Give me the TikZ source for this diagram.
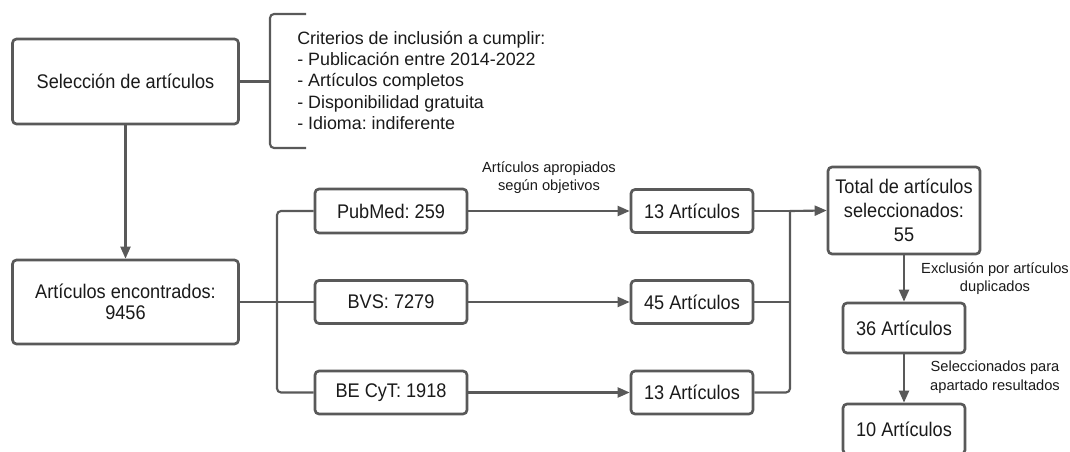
\documentclass[tikz,border=0pt]{standalone}
\usepackage{fontspec}
\setmainfont{Liberation Sans}
\newfontfamily\boxfont[FakeStretch=0.92]{Liberation Sans}
\usetikzlibrary{arrows.meta}
\definecolor{ln}{HTML}{595959}
\definecolor{tx}{HTML}{1A1A1A}
\frenchspacing
\begin{document}
\begin{tikzpicture}[x=0.75pt,y=-0.75pt,
  box/.style={draw=ln,line width=2pt,rounded corners=3pt,text=tx,align=center,inner sep=0pt,
    font=\boxfont\fontsize{14.8}{15.8}\selectfont},
  conn/.style={draw=ln,line width=1.6pt,rounded corners=3pt},
  arr/.style={conn,-{Triangle[length=9pt,width=7.5pt]}},
  lbl/.style={text=tx,align=center,inner sep=0pt,font=\fontsize{11}{13.6}\selectfont}]
\useasboundingbox (0,0) rectangle (1070,452);
\clip (0,0) rectangle (1070,452);
% boxes
\node[box,minimum width=226*0.75pt,minimum height=85*0.75pt] (sel) at (125.5,81.5) {Selección de artículos};
\node[box,minimum width=226*0.75pt,minimum height=84*0.75pt] (enc) at (125.5,302) {Artículos encontrados:\\9456};
\node[box,minimum width=152*0.75pt,minimum height=44*0.75pt] (pub) at (391,211) {PubMed: 259};
\node[box,minimum width=152*0.75pt,minimum height=43*0.75pt] (bvs) at (391,302) {BVS: 7279};
\node[box,minimum width=152*0.75pt,minimum height=43*0.75pt] (bec) at (391,392.5) {BE CyT: 1918};
\node[box,minimum width=122*0.75pt,minimum height=43*0.75pt] (m1) at (692,211) {13 Artículos};
\node[box,minimum width=122*0.75pt,minimum height=43*0.75pt] (m2) at (692,302) {45 Artículos};
\node[box,minimum width=122*0.75pt,minimum height=43*0.75pt] (m3) at (692,392.5) {13 Artículos};
\node[box,minimum width=152*0.75pt,minimum height=87*0.75pt,font=\boxfont\fontsize{14.8}{18}\selectfont] (tot) at (904,210.5) {Total de artículos\\seleccionados:\\55};
\node[box,minimum width=122*0.75pt,minimum height=50*0.75pt] (a36) at (904,328) {36 Artículos};
\node[box,minimum width=122*0.75pt,minimum height=50*0.75pt] (a10) at (904,429) {10 Artículos};
% criteria bracket
\coordinate (bt) at (306,14);
\coordinate (bb) at (306,148);
\coordinate (bm) at (270,81.5);
\draw[conn] (bt) -- (270,14) -- (270,148) -- (bb);
\draw[conn] (sel.east) -- (bm);
\node[text=tx,anchor=west,align=left,inner sep=0pt,font=\fontsize{13.4}{16.1}\selectfont] (crit) at (297,80.5)
 {Criterios de inclusión a cumplir:\\- Publicación entre 2014-2022\\- Artículos completos\\- Disponibilidad gratuita\\- Idioma: indiferente};
% vertical arrow
\draw[arr] (sel.south) -- (enc.north);
% branch
\coordinate (br) at (277,302);
\draw[conn] (enc.east) -- (br);
\draw[conn] (pub.west) -- (br |- pub.west) -- (br |- bec.west) -- (bec.west);
\draw[conn] (br) -- (bvs.west);
% source to mid
\draw[arr] (pub.east) -- (m1.west);
\draw[arr] (bvs.east) -- (m2.west);
\draw[arr] (bec.east) -- (m3.west);
\node[lbl] (l1) at (549,178) {Artículos apropiados\\según objetivos};
% merge
\coordinate (mg) at (790,211);
\draw[conn] (m1.east) -- (mg);
\draw[conn] (m3.east) -- (mg |- m3.east) -- (mg);
\draw[conn] (m2.east) -- (mg |- m2.east);
\draw[arr] (mg) -- (tot.west);
% right column
\draw[arr] (tot.south) -- (a36.north);
\node[lbl] (l2) at (995,279) {Exclusión por artículos\\duplicados};
\draw[arr] (a36.south) -- (a10.north);
\node[lbl,font=\fontsize{11}{14}\selectfont] (l3) at (995,377.5) {Seleccionados para\\apartado resultados};
\end{tikzpicture}
\end{document}
